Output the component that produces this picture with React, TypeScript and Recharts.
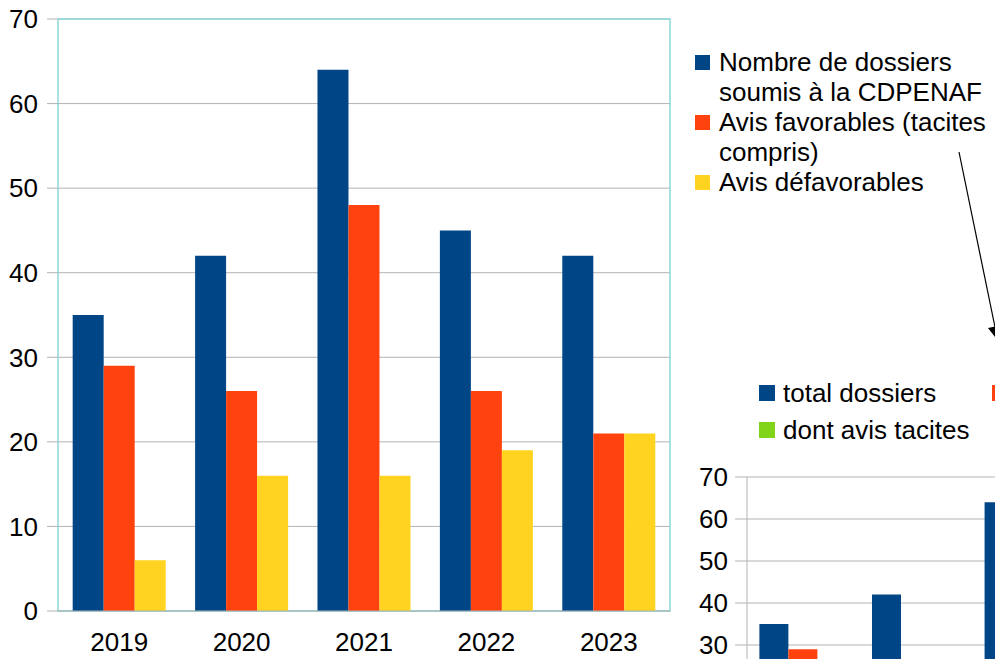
import React from 'react';
import { BarChart, Bar, XAxis, YAxis, CartesianGrid, ReferenceArea } from 'recharts';

// ---- Main chart data ----
const years = ['2019', '2020', '2021', '2022', '2023'];
const dossiersSoumis = [35, 42, 64, 45, 42];
const avisFavorables = [29, 26, 48, 26, 21];
const avisDefavorables = [6, 16, 16, 19, 21];
const yTicks = [0, 10, 20, 30, 40, 50, 60, 70];
const boundaryTicks = [0, 1, 2, 3, 4, 5];

// ---- Second (partially visible) chart data ----
const totalDossiers = [35, 42, 64, 45, 42];
const favorables2 = [29, 26, 48, 26, 21];
const avisTacites = [4, 6, 9, 7, 5];

const FONT = '"Liberation Sans", Arial, sans-serif';
const GRID = '#b3b3b3';
const BORDER = '#8ad8d8';
const BLUE = '#004586';
const RED = '#ff420e';
const YELLOW = '#ffd320';
const GREEN = '#81d41a';

const mainSeries = [
  { key: 'soumis', name: 'Nombre de dossiers soumis à la CDPENAF', color: BLUE },
  { key: 'fav', name: 'Avis favorables (tacites compris)', color: RED },
  { key: 'defav', name: 'Avis défavorables', color: YELLOW },
];

const secondSeries = [
  { key: 'total', name: 'total dossiers', color: BLUE },
  { key: 'fav', name: 'avis favorables', color: RED },
  { key: 'tacites', name: 'dont avis tacites', color: GREEN },
];

const mainData = years.map((y, i) => ({
  year: y,
  soumis: dossiersSoumis[i],
  fav: avisFavorables[i],
  defav: avisDefavorables[i],
}));

const secondData = years.map((y, i) => ({
  year: y,
  total: totalDossiers[i],
  fav: favorables2[i],
  tacites: avisTacites[i],
}));

const tickStyle = { fill: '#000', fontSize: 26, fontFamily: FONT };

export default function App() {
  return (
    <div
      style={{
        position: 'absolute',
        left: 0,
        top: 0,
        width: 995,
        height: 659,
        overflow: 'hidden',
        background: '#fff',
        fontFamily: FONT,
      }}
    >
      <div style={{ position: 'absolute', left: 0, top: 0 }}>
        <BarChart
          width={995}
          height={659}
          data={mainData}
          margin={{ top: 19, right: 325, bottom: 0, left: 0 }}
          barCategoryGap="12%"
          barGap={0}
        >
          <CartesianGrid horizontal vertical={false} stroke={GRID} yAxisId="y" xAxisId="cat" />
          <XAxis
            xAxisId="grid"
            type="number"
            domain={[0, 5]}
            ticks={boundaryTicks}
            allowDataOverflow
            height={0}
            tick={false}
            axisLine={false}
            tickLine={{ stroke: GRID }}
            tickSize={12}
          />
          <XAxis
            xAxisId="cat"
            dataKey="year"
            height={48}
            tick={tickStyle}
            tickLine={false}
            tickSize={12}
            tickMargin={10}
            axisLine={{ stroke: GRID }}
          />
          <YAxis
            yAxisId="y"
            domain={[0, 70]}
            ticks={yTicks}
            width={58}
            tick={tickStyle}
            tickSize={11}
            tickMargin={9}
            tickLine={{ stroke: GRID }}
            axisLine={false}
            interval={0}
          />
          <ReferenceArea
            xAxisId="grid"
            yAxisId="y"
            y1={0}
            y2={70}
            fill="none"
            stroke={BORDER}
            strokeWidth={1.5}
            ifOverflow="visible"
          />
          {mainSeries.map((s) => (
            <Bar
              key={s.key}
              xAxisId="cat"
              yAxisId="y"
              dataKey={s.key}
              name={s.name}
              fill={s.color}
              isAnimationActive={false}
            />
          ))}
        </BarChart>
      </div>

      <div style={{ position: 'absolute', left: 680, top: 400 }}>
        <BarChart
          width={700}
          height={411}
          data={secondData}
          margin={{ top: 77, right: 70, bottom: 0, left: 0 }}
          barCategoryGap="11%"
          barGap={0}
        >
          <CartesianGrid horizontal vertical={false} stroke={GRID} />
          <XAxis dataKey="year" height={40} tick={tickStyle} tickLine={false} axisLine={{ stroke: GRID }} />
          <YAxis
            domain={[0, 70]}
            ticks={yTicks}
            width={67}
            tick={tickStyle}
            tickSize={12}
            tickMargin={7}
            tickLine={{ stroke: GRID }}
            axisLine={{ stroke: GRID }}
            interval={0}
          />
          {secondSeries.map((s) => (
            <Bar key={s.key} dataKey={s.key} name={s.name} fill={s.color} isAnimationActive={false} />
          ))}
        </BarChart>
      </div>

      {/* Main legend */}
      <div
        style={{
          position: 'absolute',
          left: 695,
          top: 47,
          width: 300,
          fontSize: 26,
          lineHeight: '30px',
          color: '#000',
        }}
      >
        {mainSeries.map((s) => (
          <div key={s.key} style={{ display: 'flex', alignItems: 'flex-start' }}>
            <div style={{ width: 15, height: 15, background: s.color, marginTop: 8, flex: '0 0 15px' }} />
            <div style={{ marginLeft: 9, width: 276 }}>{s.name}</div>
          </div>
        ))}
      </div>

      {/* Second chart legend */}
      {secondSeries.map((s, i) => (
        <div
          key={s.key}
          style={{
            position: 'absolute',
            left: 759 + (i % 2) * 233,
            top: 378 + Math.floor(i / 2) * 37,
            display: 'flex',
            alignItems: 'flex-start',
            fontSize: 26,
            lineHeight: '30px',
            color: '#000',
            whiteSpace: 'nowrap',
          }}
        >
          <div style={{ width: 16, height: 16, background: s.color, marginTop: 7, flex: '0 0 16px' }} />
          <div style={{ marginLeft: 8 }}>{s.name}</div>
        </div>
      ))}

      {/* Annotation arrow */}
      <svg width={995} height={659} style={{ position: 'absolute', left: 0, top: 0, pointerEvents: 'none' }}>
        <line x1={959} y1={152} x2={996} y2={332} stroke="#000" strokeWidth={1.2} />
        <polygon points="988,328 1002,325 999,342" fill="#000" />
      </svg>
    </div>
  );
}
